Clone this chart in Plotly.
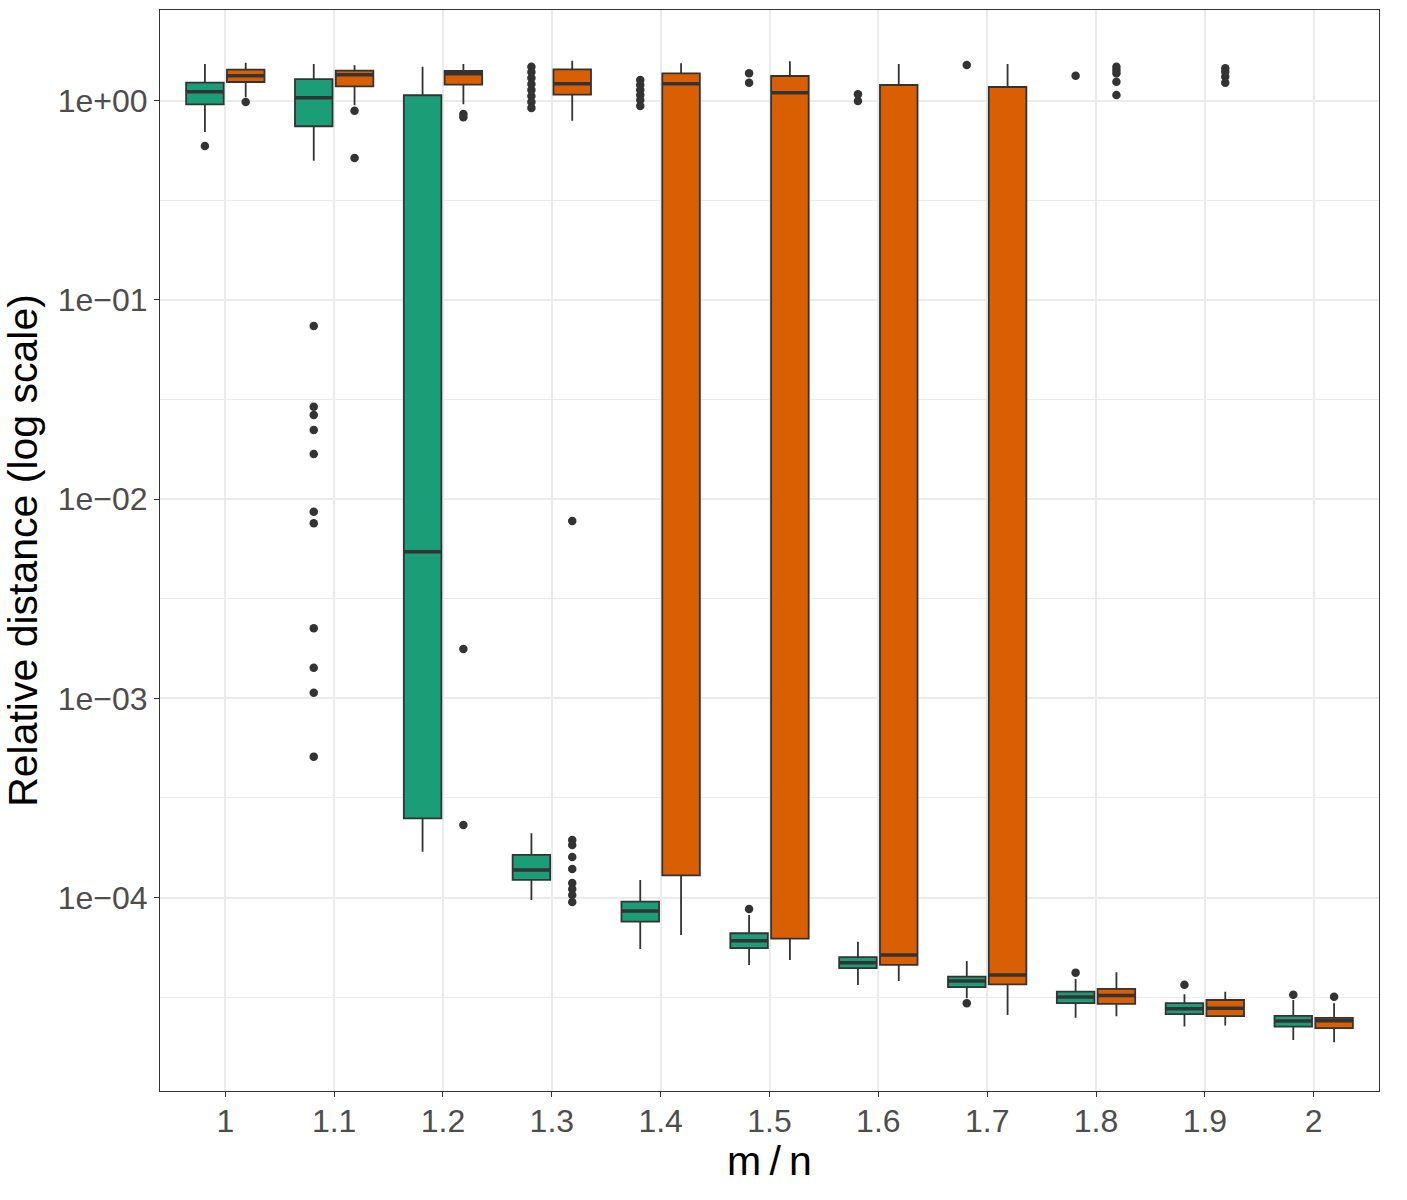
import plotly.graph_objects as go

categories = ['1', '1.1', '1.2', '1.3', '1.4', '1.5', '1.6', '1.7', '1.8', '1.9', '2']

green_lo = [0.697, 0.500, 0.000170, 0.0000973, 0.0000552, 0.0000459, 0.0000364, 0.0000312, 0.0000249, 0.0000225, 0.0000193]
green_q1 = [0.960, 0.745, 0.000250, 0.0001226, 0.0000757, 0.0000557, 0.0000442, 0.0000355, 0.0000295, 0.0000260, 0.0000225]
green_med = [1.111, 1.036, 0.00545, 0.0001376, 0.0000857, 0.0000608, 0.0000471, 0.0000381, 0.0000317, 0.0000277, 0.0000240]
green_q3 = [1.233, 1.286, 1.066, 0.0001637, 0.0000954, 0.0000662, 0.0000502, 0.0000401, 0.0000337, 0.0000295, 0.0000255]
green_hi = [1.530, 1.530, 1.483, 0.0002103, 0.0001226, 0.0000818, 0.0000601, 0.0000480, 0.0000390, 0.0000327, 0.0000306]
green_out = [
    [0.593],
    [0.0741, 0.02914, 0.02647, 0.02226, 0.01686, 0.00865, 0.00757, 0.002248, 0.001426, 0.001068, 0.000510],
    [],
    [1.483, 1.395, 1.302, 1.214, 1.133, 1.057, 0.986, 0.920],
    [1.272, 1.200, 1.133, 1.069, 1.009, 0.942],
    [1.374, 1.233, 0.0000877],
    [1.078, 0.998],
    [1.512, 0.0000295],
    [1.336, 0.0000420],
    [0.0000365],
    [0.0000325],
]

orange_lo = [1.041, 0.949, 0.960, 0.795, 0.0000649, 0.0000486, 0.0000381, 0.0000257, 0.0000254, 0.0000228, 0.0000188]
orange_q1 = [1.243, 1.182, 1.205, 1.073, 0.0001294, 0.0000622, 0.0000459, 0.0000367, 0.0000293, 0.0000254, 0.0000221]
orange_med = [1.336, 1.352, 1.368, 1.218, 1.218, 1.098, 0.0000515, 0.0000409, 0.0000322, 0.0000278, 0.0000241]
orange_q3 = [1.433, 1.416, 1.411, 1.439, 1.374, 1.332, 1.200, 1.173, 0.0000348, 0.0000306, 0.0000249]
orange_hi = [1.554, 1.507, 1.530, 1.590, 1.543, 1.579, 1.530, 1.530, 0.0000422, 0.0000337, 0.0000295]
orange_out = [
    [0.986],
    [0.892, 0.516],
    [0.858, 0.826, 0.00177, 0.0002315],
    [0.00777, 0.0001946, 0.0001837, 0.0001599, 0.0001391, 0.0001184, 0.0001104, 0.0001030, 0.0000950],
    [],
    [],
    [],
    [],
    [1.483, 1.428, 1.374, 1.247, 1.069],
    [1.456, 1.400, 1.321, 1.233],
    [0.0000318],
]

y_tickvals = [1, 0.1, 0.01, 0.001, 0.0001]
y_ticktext = ['1e+00', '1e\u221201', '1e\u221202', '1e\u221203', '1e\u221204']
y_minor = [10 ** -0.5, 10 ** -1.5, 10 ** -2.5, 10 ** -3.5, 10 ** -4.5]

GREEN = '#1B9E77'
ORANGE = '#D95F02'
DARK = '#333333'
OFFSET = 0.1875
BOXW = 0.345
FONT = 'Liberation Sans, Arial, sans-serif'

fig = go.Figure()
idx = list(range(len(categories)))

for color, off, lo, q1, med, q3, hi, outs in [
    (GREEN, -OFFSET, green_lo, green_q1, green_med, green_q3, green_hi, green_out),
    (ORANGE, OFFSET, orange_lo, orange_q1, orange_med, orange_q3, orange_hi, orange_out),
]:
    xs = [i + off for i in idx]
    fig.add_trace(go.Box(
        x=xs, q1=q1, median=med, q3=q3, lowerfence=lo, upperfence=hi,
        width=BOXW, fillcolor=color, line=dict(color=DARK, width=1.8),
        whiskerwidth=0, boxpoints=False, showlegend=False, hoverinfo='skip',
    ))
    # thicker median segment (ggplot's fatten)
    mx, my = [], []
    for x, m in zip(xs, med):
        mx += [x - BOXW / 2, x + BOXW / 2, None]
        my += [m, m, None]
    fig.add_trace(go.Scatter(x=mx, y=my, mode='lines', line=dict(color=DARK, width=3.5),
                             showlegend=False, hoverinfo='skip'))
    ox, oy = [], []
    for x, o in zip(xs, outs):
        ox += [x] * len(o)
        oy += o
    fig.add_trace(go.Scatter(x=ox, y=oy, mode='markers',
                             marker=dict(color=DARK, size=8.5, line=dict(width=0)),
                             showlegend=False, hoverinfo='skip'))

fig.update_layout(
    width=1407, height=1200,
    margin=dict(l=160, r=28, t=10, b=109),
    paper_bgcolor='white', plot_bgcolor='white',
    boxmode='overlay',
    font=dict(family=FONT, color='#4D4D4D'),
)
fig.update_xaxes(
    range=[-0.6, 10.6], tickmode='array', tickvals=idx, ticktext=categories,
    showgrid=True, gridcolor='#EBEBEB', gridwidth=1.5, zeroline=False,
    ticks='outside', ticklen=5, tickwidth=1.2, tickcolor=DARK,
    tickfont=dict(size=32, color='#4D4D4D', family=FONT), ticklabelstandoff=-4,
    showline=True, linecolor=DARK, linewidth=1.2, mirror=True,
    title=dict(text='m\u2009/\u2009n', font=dict(size=41, color='black', family=FONT), standoff=8),
)
fig.update_yaxes(
    type='log', range=[-4.971, 0.4558], tickmode='array', tickvals=y_tickvals, ticktext=y_ticktext,
    showgrid=True, gridcolor='#EBEBEB', gridwidth=1.5, zeroline=False,
    minor=dict(tickmode='array', tickvals=y_minor, showgrid=True, gridcolor='#EBEBEB', gridwidth=0.8, ticks=''),
    ticks='outside', ticklen=5, tickwidth=1.2, tickcolor=DARK,
    tickfont=dict(size=32, color='#4D4D4D', family=FONT),
    showline=True, linecolor=DARK, linewidth=1.2, mirror=True,
    title=dict(text='Relative distance (log scale)', font=dict(size=41, color='black', family=FONT), standoff=8),
)

fig.write_html('out.html')
